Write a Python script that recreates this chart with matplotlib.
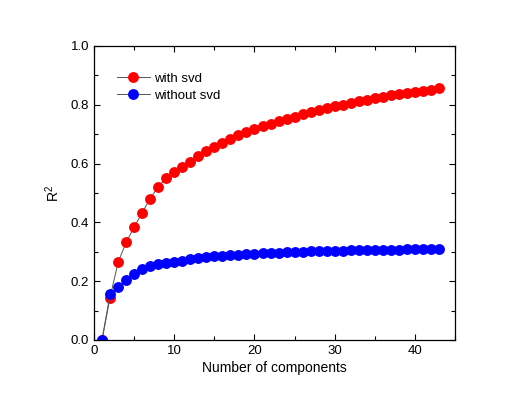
import numpy as np
from matplotlib import pyplot as plt
from matplotlib.ticker import MultipleLocator

plt.rcParams['font.family'] = ['Liberation Sans', 'DejaVu Sans']
plt.rcParams['mathtext.fontset'] = 'custom'
plt.rcParams['mathtext.rm'] = 'Liberation Sans'

# number of components 1..43
n_comp = np.arange(1, 44)

with_svd = [0.0, 0.144, 0.264, 0.332, 0.383, 0.433, 0.481, 0.521, 0.551, 0.570,
            0.588, 0.607, 0.626, 0.643, 0.656, 0.671, 0.685, 0.696, 0.706, 0.718,
            0.728, 0.736, 0.744, 0.751, 0.759, 0.768, 0.774, 0.781, 0.789, 0.796,
            0.800, 0.806, 0.812, 0.816, 0.822, 0.828, 0.832, 0.837, 0.840, 0.844,
            0.848, 0.851, 0.856]

without_svd = [0.0, 0.155, 0.181, 0.203, 0.226, 0.241, 0.251, 0.257, 0.262, 0.266,
               0.270, 0.274, 0.278, 0.281, 0.284, 0.287, 0.289, 0.290, 0.291, 0.2925,
               0.295, 0.296, 0.297, 0.298, 0.299, 0.300, 0.301, 0.302, 0.303, 0.304,
               0.304, 0.305, 0.305, 0.306, 0.306, 0.307, 0.307, 0.307, 0.308, 0.308,
               0.308, 0.308, 0.308]

fig = plt.figure(figsize=(5.28, 4.08), dpi=100)
ax = fig.add_axes([0.178, 0.1667, 0.684, 0.7206])

ax.plot(n_comp, with_svd, '-o', color='#555555', lw=0.7, ms=6.8,
        mfc='#ff0000', mec='#ff0000', label='with svd')
ax.plot(n_comp, without_svd, '-o', color='#555555', lw=0.7, ms=6.8,
        mfc='#0000ff', mec='#0000ff', label='without svd')

ax.set_xlim(0, 45)
ax.set_ylim(0, 1.0)
ax.xaxis.set_major_locator(MultipleLocator(10))
ax.xaxis.set_minor_locator(MultipleLocator(5))
ax.yaxis.set_major_locator(MultipleLocator(0.2))
ax.yaxis.set_minor_locator(MultipleLocator(0.1))
ax.yaxis.set_major_formatter(plt.FormatStrFormatter('%.1f'))
ax.tick_params(which='both', direction='in', top=True, right=True, labelsize=9.5, width=0.8)
ax.tick_params(which='major', length=4.5)
ax.tick_params(which='minor', length=3)
for s in ax.spines.values():
    s.set_linewidth(0.9)

ax.set_xlabel('Number of components', fontsize=10, labelpad=3)
ax.set_ylabel(r'R$^\mathregular{2}$', fontsize=10, labelpad=6)

ax.legend(loc='upper left', bbox_to_anchor=(0.03, 0.95), frameon=False,
          fontsize=9.5, handlelength=2.5, handletextpad=0.3, labelspacing=0.35)

fig.savefig('out.png', dpi=100)
